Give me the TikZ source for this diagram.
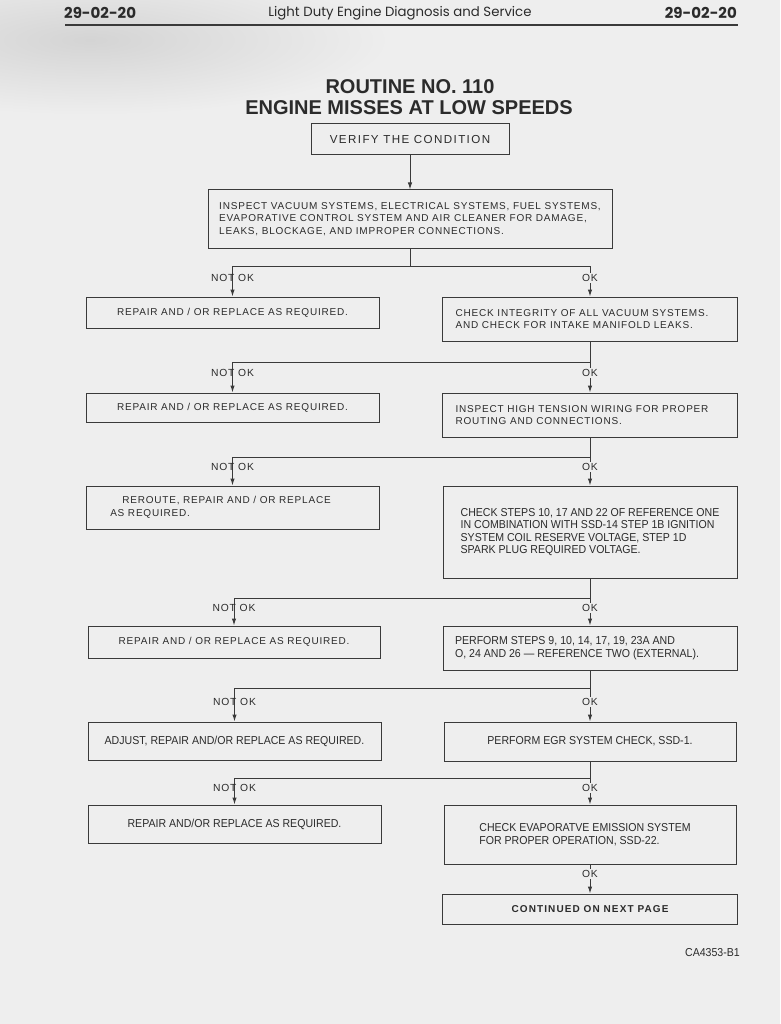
\documentclass[tikz,border=0pt]{standalone}
\usepackage{fontspec}
\setmainfont{Liberation Sans}
\newfontfamily\hdrfont{Poppins}
\newfontfamily\spfont[LetterSpace=8]{Liberation Sans}
\newfontfamily\vfont[LetterSpace=12]{Liberation Sans}
\newfontfamily\cdfont[FakeStretch=0.92]{Liberation Sans}
\newfontfamily\lbfont[LetterSpace=8]{Liberation Sans}
\newfontfamily\fbfont[LetterSpace=11]{Liberation Sans}
\usetikzlibrary{arrows.meta}
\definecolor{bg}{HTML}{EEEEEE}
\definecolor{shadow}{HTML}{D4D4D4}
\definecolor{ink}{HTML}{2B2B2B}
\definecolor{linec}{HTML}{3A3A3A}
\begin{document}
\begin{tikzpicture}[x=1pt,y=-1pt,
  box/.style={draw=linec,line width=1pt,inner sep=0pt,text=ink,align=left},
  sp/.style={font=\spfont\fontsize{10}{12.5}\selectfont},
  cd/.style={font=\cdfont\fontsize{11.5}{12.5}\selectfont},
  lbl/.style={font=\lbfont\fontsize{10.3}{11}\selectfont,text=ink,inner sep=1pt},
  okl/.style={lbl,fill=bg},
  conn/.style={draw=linec,line width=1pt},
  arr/.style={conn,-{Latex[length=7pt,width=4.5pt]}},
]
\fill[bg] (0,0) rectangle (780,1024);
\begin{scope}
\clip (0,0) rectangle (780,1024);
\shade[inner color=shadow,outer color=bg] (90,40) ellipse (300 and 75);
\end{scope}
% header
\node[font=\hdrfont\bfseries\fontsize{15}{17}\selectfont,text=ink,anchor=west,inner sep=0pt] (hl) at (64,13) {29-02-20};
\node[font=\hdrfont\bfseries\fontsize{15}{17}\selectfont,text=ink,anchor=east,inner sep=0pt] (hr) at (737,13) {29-02-20};
\node[font=\hdrfont\fontsize{13.3}{15}\selectfont,text=ink,inner sep=0pt] (hc) at (400,13) {Light Duty Engine Diagnosis and Service};
\draw[linec,line width=2pt] (65,25.5) -- (738,25.5);
% title
\node[font=\bfseries\fontsize{20}{22}\selectfont,text=ink,inner sep=0pt] (t1) at (410,87) {ROUTINE NO. 110};
\node[font=\bfseries\fontsize{20}{22}\selectfont,text=ink,inner sep=0pt] (t2) at (409,108) {ENGINE MISSES AT LOW SPEEDS};
% boxes
\node[box,font=\vfont\fontsize{11.6}{13}\selectfont,minimum width=198,minimum height=31] (verify) at (410,139.5) {VERIFY THE CONDITION};
\node[box,sp,minimum width=404,minimum height=58] (inspect) at (410,219) {INSPECT VACUUM SYSTEMS, ELECTRICAL SYSTEMS, FUEL SYSTEMS,\\EVAPORATIVE CONTROL SYSTEM AND AIR CLEANER FOR DAMAGE,\\LEAKS, BLOCKAGE, AND IMPROPER CONNECTIONS.};
\node[box,sp,minimum width=293,minimum height=31] (L1) at (232.5,312.5) {REPAIR AND / OR REPLACE AS REQUIRED.};
\node[box,sp,minimum width=295,minimum height=44] (R1) at (590,319) {CHECK INTEGRITY OF ALL VACUUM SYSTEMS.\hspace*{16pt}\\AND CHECK FOR INTAKE MANIFOLD LEAKS.};
\node[box,sp,minimum width=293,minimum height=29] (L2) at (232.5,407.5) {REPAIR AND / OR REPLACE AS REQUIRED.};
\node[box,sp,minimum width=295,minimum height=44] (R2) at (590,415) {INSPECT HIGH TENSION WIRING FOR PROPER\hspace*{16pt}\\ROUTING AND CONNECTIONS.};
\node[box,sp,minimum width=293,minimum height=43] (L3) at (232.5,507.5) {\hspace*{12pt}REROUTE, REPAIR AND / OR REPLACE\hspace*{24pt}\\AS REQUIRED.};
\node[box,cd,minimum width=294,minimum height=92] (R3) at (590,532) {CHECK STEPS 10, 17 AND 22 OF REFERENCE ONE\\IN COMBINATION WITH SSD-14 STEP 1B IGNITION\\SYSTEM COIL RESERVE VOLTAGE, STEP 1D\\SPARK PLUG REQUIRED VOLTAGE.};
\node[box,sp,minimum width=292,minimum height=32] (L4) at (234,642) {REPAIR AND / OR REPLACE AS REQUIRED.};
\node[box,cd,minimum width=294,minimum height=44] (R4) at (590,648) {PERFORM STEPS 9, 10, 14, 17, 19, 23A AND\\O, 24 AND 26 — REFERENCE TWO (EXTERNAL).\hspace*{26pt}};
\node[box,cd,minimum width=293,minimum height=38] (L5) at (234.5,741) {ADJUST, REPAIR AND/OR REPLACE AS REQUIRED.};
\node[box,cd,minimum width=292,minimum height=39] (R5) at (590,741.5) {PERFORM EGR SYSTEM CHECK, SSD-1.};
\node[box,cd,minimum width=293,minimum height=38] (L6) at (234.5,824) {REPAIR AND/OR REPLACE AS REQUIRED.};
\node[box,cd,minimum width=292,minimum height=59] (R6) at (590,834.5) {CHECK EVAPORATVE EMISSION SYSTEM\hspace*{10pt}\\FOR PROPER OPERATION, SSD-22.};
\node[box,font=\fbfont\bfseries\fontsize{10}{11}\selectfont,minimum width=295,minimum height=30] (F) at (590,909) {CONTINUED ON NEXT PAGE};
\node[font=\cdfont\fontsize{11.5}{13}\selectfont,text=ink,anchor=east,inner sep=0pt] (code) at (740,953) {CA4353-B1};
% connectors
\draw[arr] (verify.south) -- (inspect.north);
\coordinate (j1) at (410,266);
\draw[conn] (inspect.south) -- (j1);
\draw[conn] (j1 -| L1.north) -- (j1 -| R1.north);
\draw[arr] (j1 -| L1.north) -- (L1.north);
\draw[arr] (j1 -| R1.north) -- (R1.north);
\node[lbl] (n1) at (L1.north |- 0,278) {NOT OK};
\node[okl] (o1) at (R1.north |- 0,278) {OK};
% row 2
\coordinate (j2) at (590,362);
\draw[conn] (R1.south) -- (j2);
\draw[conn] (j2 -| L2.north) -- (j2);
\draw[arr] (j2 -| L2.north) -- (L2.north);
\draw[arr] (j2) -- (R2.north);
\node[lbl] (n2) at (L2.north |- 0,373) {NOT OK};
\node[okl] (o2) at (R2.north |- 0,373) {OK};
% row 3
\coordinate (j3) at (590,457);
\draw[conn] (R2.south) -- (j3);
\draw[conn] (j3 -| L3.north) -- (j3);
\draw[arr] (j3 -| L3.north) -- (L3.north);
\draw[arr] (j3) -- (R3.north);
\node[lbl] (n3) at (L3.north |- 0,467) {NOT OK};
\node[okl] (o3) at (R3.north |- 0,467) {OK};
% row 4
\coordinate (j4) at (590,598);
\draw[conn] (R3.south) -- (j4);
\draw[conn] (j4 -| L4.north) -- (j4);
\draw[arr] (j4 -| L4.north) -- (L4.north);
\draw[arr] (j4) -- (R4.north);
\node[lbl] (n4) at (L4.north |- 0,608) {NOT OK};
\node[okl] (o4) at (R4.north |- 0,608) {OK};
% row 5
\coordinate (j5) at (590,688);
\draw[conn] (R4.south) -- (j5);
\draw[conn] (j5 -| L5.north) -- (j5);
\draw[arr] (j5 -| L5.north) -- (L5.north);
\draw[arr] (j5) -- (R5.north);
\node[lbl] (n5) at (L5.north |- 0,702) {NOT OK};
\node[okl] (o5) at (R5.north |- 0,702) {OK};
% row 6
\coordinate (j6) at (590,778);
\draw[conn] (R5.south) -- (j6);
\draw[conn] (j6 -| L6.north) -- (j6);
\draw[arr] (j6 -| L6.north) -- (L6.north);
\draw[arr] (j6) -- (R6.north);
\node[lbl] (n6) at (L6.north |- 0,788) {NOT OK};
\node[okl] (o6) at (R6.north |- 0,788) {OK};
% final
\draw[arr] (R6.south) -- (F.north);
\node[okl] (o7) at (R6.south |- 0,874) {OK};
\end{tikzpicture}
\end{document}
